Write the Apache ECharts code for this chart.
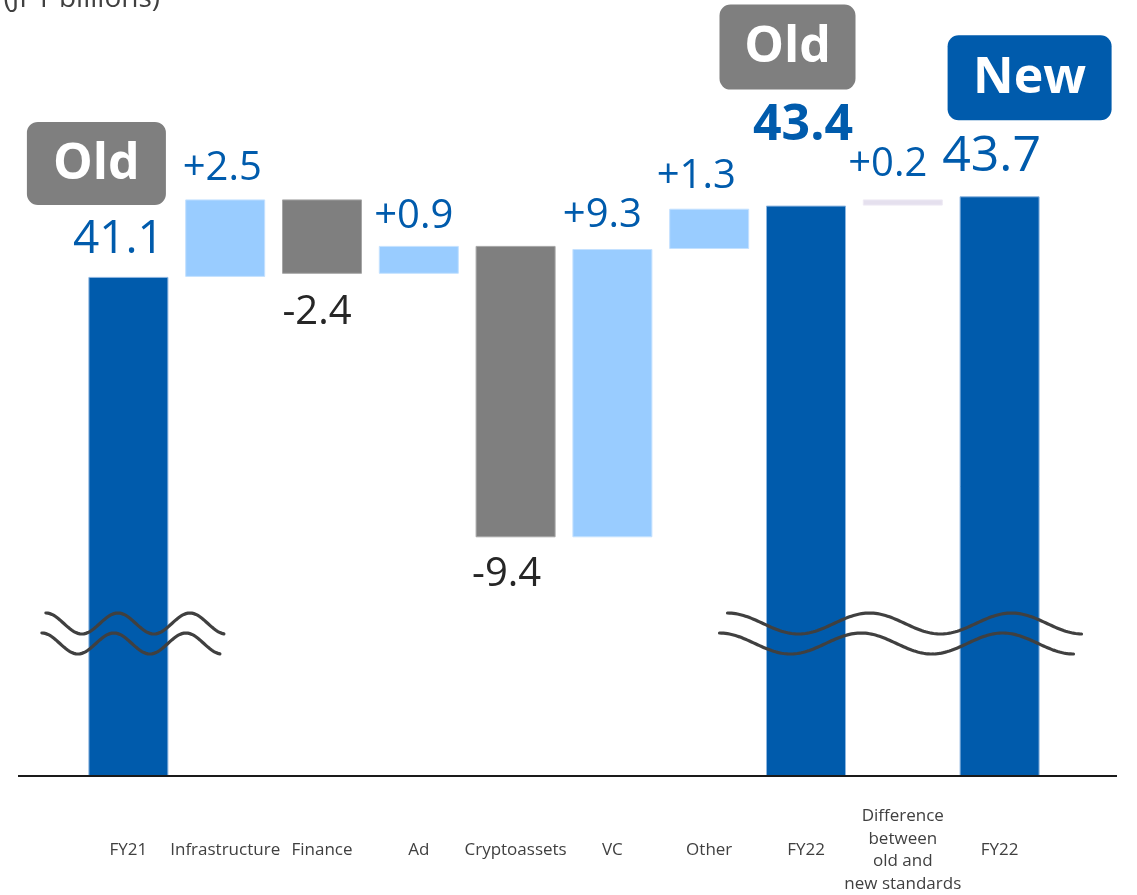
<!DOCTYPE html>
<html>
<head>
<meta charset="utf-8">
<script src="https://cdn.jsdelivr.net/npm/echarts@6/dist/echarts.min.js"></script>
<style>
  html, body { margin: 0; padding: 0; background: #ffffff; overflow: hidden; }
  #chart { width: 1137px; height: 895px; }
</style>
</head>
<body>
<div id="chart"></div>
<script>
// Operating profit bridge, FY21 -> FY22 (JPY billions)
const categories = ['FY21', 'Infrastructure', 'Finance', 'Ad', 'Cryptoassets', 'VC', 'Other',
  'FY22', 'Difference\nbetween\nold and\nnew standards', 'FY22'];
const startTotal = 41.1;
const stepChanges = [2.5, -2.4, 0.9, -9.4, 9.3, 1.3];
const oldTotal = 43.4;
const standardsDiff = 0.2;
const newTotal = 43.7;
const badgeLabels = ['Old', 'Old', 'New'];
const unitTitle = '(JPY billions)';
const axisFloor = 25;
const axisCeil = 50;
const breakValue = 30;

const BLUE = '#005BAC';
const LIGHT = '#99CCFF';
const GRAY = '#7F7F7F';
const LAVENDER = '#E5E0EE';
const TEXT_DARK = '#262626';
const FONT = '"Open Sans", "Noto Sans", sans-serif';

// Build floating segments for the waterfall
const bars = [];
bars.push({ low: null, high: startTotal, kind: 'total', text: startTotal.toFixed(1) });
let running = startTotal;
stepChanges.forEach(d => {
  const next = +(running + d).toFixed(1);
  bars.push({
    low: Math.min(running, next), high: Math.max(running, next),
    kind: d >= 0 ? 'up' : 'down',
    text: (d >= 0 ? '+' : '') + d.toFixed(1)
  });
  running = next;
});
bars.push({ low: null, high: oldTotal, kind: 'totalBold', text: oldTotal.toFixed(1) });
const diffTop = +(oldTotal + standardsDiff).toFixed(1);
bars.push({ low: oldTotal, high: diffTop, kind: 'diff', text: '+' + standardsDiff.toFixed(1) });
bars.push({ low: null, high: newTotal, kind: 'total', text: newTotal.toFixed(1) });

const fillFor = { total: BLUE, totalBold: BLUE, up: LIGHT, down: GRAY, diff: LAVENDER };
const edgeFor = { total: '#8DB6E0', totalBold: '#8DB6E0', up: '#C4E1FF', down: '#A6A6A6', diff: '#EEEAF4' };

const chart = echarts.init(document.getElementById('chart'), null, { renderer: 'canvas' });
const H = chart.getHeight();
const BASE_LINE_Y = 781;   // plot floor
const PLOT_TOP = 1;

// label look per bar (size / spacing / nudge)
const labelLook = [
  { fontSize: 46, distance: 14, offset: [-10, 0] },
  { fontSize: 40, distance: 11, offset: [-3, 0] },
  { fontSize: 40, distance: 19, offset: [-5, 0] },
  { fontSize: 40, distance: 9, offset: [-5, 0] },
  { fontSize: 40, distance: 17, offset: [-9, 0] },
  { fontSize: 40, distance: 13, offset: [-10, 0] },
  { fontSize: 40, distance: 12, offset: [-13, 0] },
  { fontSize: 50, distance: 55, offset: [-3, 0], fontWeight: 'bold' },
  { fontSize: 40, distance: 15, offset: [-15, 0] },
  { fontSize: 50, distance: 15, offset: [-8, 0] }
];

const baseData = bars.map(b => (b.low === null ? 0 : b.low));
const shownData = bars.map((b, i) => {
  const look = labelLook[i];
  const isDown = b.kind === 'down';
  return {
    value: b.low === null ? b.high : +(b.high - b.low).toFixed(1),
    itemStyle: { color: fillFor[b.kind], borderColor: edgeFor[b.kind], borderWidth: 1 },
    label: {
      show: true,
      formatter: b.text,
      position: isDown ? 'bottom' : 'top',
      distance: look.distance,
      offset: look.offset,
      fontSize: look.fontSize,
      lineHeight: look.fontSize,
      fontWeight: look.fontWeight || 'normal',
      fontFamily: FONT,
      color: isDown ? TEXT_DARK : BLUE
    }
  };
});

chart.setOption({
  animation: false,
  backgroundColor: '#ffffff',
  grid: { left: 80, width: 968, top: PLOT_TOP, bottom: H - BASE_LINE_Y, containLabel: false },
  xAxis: {
    type: 'category',
    data: categories,
    axisLine: { show: false },
    axisTick: { show: false },
    axisLabel: {
      interval: 0,
      margin: 74,
      verticalAlign: 'middle',
      lineHeight: 22.5,
      fontSize: 17,
      fontFamily: FONT,
      color: '#404040'
    }
  },
  yAxis: {
    type: 'value',
    min: axisFloor,
    max: axisCeil,
    show: false,
    splitLine: { show: false }
  },
  series: [
    {
      type: 'bar', stack: 'bridge', barWidth: 80, silent: true,
      itemStyle: { color: 'transparent' },
      data: baseData
    },
    {
      type: 'bar', stack: 'bridge', barWidth: 80, clip: true,
      data: shownData
    }
  ]
});

// Overlay: baseline, axis-break marks, badges, unit note
function px(catIndex, value) {
  return chart.convertToPixel({ xAxisIndex: 0, yAxisIndex: 0 }, [catIndex, value]);
}

function wave(x0, x1, yMid, halfWave, amp, phaseX) {
  const pts = [];
  for (let x = x0; x <= x1 + 0.01; x += 2) {
    pts.push([x, yMid - amp * Math.cos(Math.PI * (x - phaseX) / halfWave)]);
  }
  return pts;
}

const baseY = px(0, axisFloor)[1];
const breakY = px(0, breakValue)[1];
const fy21X = px(0, startTotal)[0];
const fy22X = px(7, oldTotal)[0];
const lineStyle = { stroke: '#404040', lineWidth: 3.2, fill: null, lineCap: 'round' };

function breakPair(cx, upFrom, upTo, upHalf, loFrom, loTo, loHalf) {
  return [
    { type: 'polyline', silent: true, z: 100,
      shape: { points: wave(cx + upFrom, cx + upTo, breakY + 2.5, upHalf, 10.5, cx + upFrom) },
      style: lineStyle },
    { type: 'polyline', silent: true, z: 100,
      shape: { points: wave(cx + loFrom, cx + loTo, breakY + 22.5, loHalf, 10.5, cx + loFrom) },
      style: lineStyle }
  ];
}

function badge(catIndex, value, text, fill, dx, dy, w, h) {
  const p = px(catIndex, value);
  const left = p[0] + dx - w / 2;
  const top = p[1] + dy;
  return {
    type: 'group', silent: true, z: 100,
    children: [
      { type: 'rect', shape: { x: left, y: top, width: w, height: h, r: 11 }, style: { fill: fill } },
      { type: 'text', style: {
          text: text, x: left + w / 2, y: top + h / 2 + 1, align: 'center', verticalAlign: 'middle',
          font: 'bold 50px ' + FONT, fill: '#ffffff' } }
    ]
  };
}

chart.setOption({
  graphic: [
    { type: 'line', silent: true, z: 90,
      shape: { x1: 18, y1: baseY, x2: 1117, y2: baseY },
      style: { stroke: '#1a1a1a', lineWidth: 2 } },
    ...breakPair(fy21X, -82.5, 96.5, 36, -86.5, 91.5, 36),
    ...breakPair(fy22X, -78.5, 276.5, 71, -86.5, 267.5, 70.8),
    badge(0, startTotal, badgeLabels[0], GRAY, -32, -155, 139, 83),
    badge(7, oldTotal, badgeLabels[1], GRAY, -18.5, -201, 136, 85),
    badge(9, newTotal, badgeLabels[2], BLUE, 30, -161, 164, 85),
    { type: 'text', silent: true, z: 100,
      style: { text: unitTitle, x: 160, y: 13, align: 'right', verticalAlign: 'bottom',
               font: '28px ' + FONT, fill: '#404040' } }
  ]
});
</script>
</body>
</html>
